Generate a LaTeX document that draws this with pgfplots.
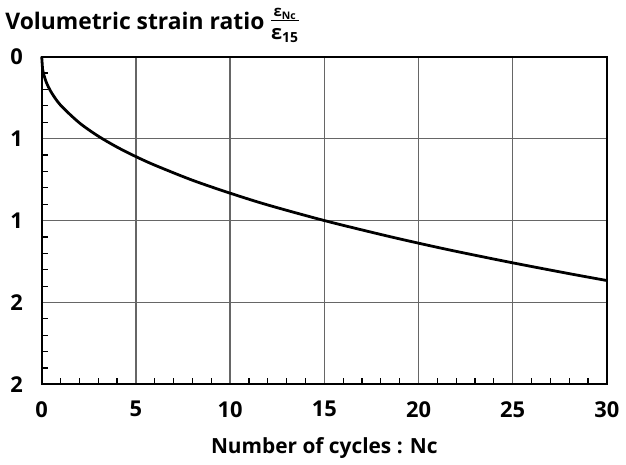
\documentclass[border=0pt]{standalone}
\usepackage{pgfplots}
\pgfplotsset{compat=1.18}
\usepackage{fontspec}
\setmainfont{Open Sans}
\definecolor{gridgray}{HTML}{666666}

\begin{document}
\begin{tikzpicture}
\begin{axis}[
  scale only axis, width=284.5pt, height=165pt,
  xmin=0, xmax=30, ymin=0, ymax=2, y dir=reverse,
  xtick={0,5,...,30}, ytick={0,0.5,1,1.5,2},
  yticklabels={0,1,1,2,2},
  xtick pos=bottom, ytick pos=left,
  minor x tick num=4, minor y tick num=4,
  grid=major, major grid style={gridgray, line width=0.75pt},
  axis line style={black, line width=1pt},
  major tick length=0pt, minor tick length=3pt,
  every minor tick/.style={black, line width=0.6pt},
  tick align=inside,
  ticklabel style={font=\bfseries\fontsize{11}{12}\selectfont},
  /pgf/number format/assume math mode=true,
  xticklabel style={yshift=-5pt},
  yticklabel style={xshift=-6pt},
  xlabel={\bfseries Number of cycles : Nc},
  xlabel style={font=\fontsize{10.5}{12}\selectfont, yshift=-3pt},
  clip=false,
]
\addplot[black, line width=1.4pt, smooth] coordinates {
  (0,0) (0.05,0.08) (0.1,0.105) (0.25,0.158) (0.5,0.216) (1,0.296)
  (2,0.404) (3,0.485) (4,0.552) (5,0.610) (6,0.662) (8,0.754)
  (10,0.833) (12,0.905) (15,1.0) (18,1.085) (20,1.138) (22,1.188)
  (25,1.258) (28,1.324) (30,1.366)
};
\end{axis}
\node[anchor=base west, font=\bfseries\fontsize{11.5}{13}\selectfont, inner sep=0pt]
  (title) at ([xshift=-18.5pt, yshift=13.5pt]current axis.north west)
  {Volumetric strain ratio};
\node[anchor=west, inner sep=0pt, font=\bfseries] at ([xshift=3pt, yshift=-1pt]title.east)
  {\begin{tabular}{@{}c@{}}
   {\fontsize{7.5}{8}\selectfont ε\textsubscript{Nc}}\\[-2pt]
   \hline\noalign{\vskip 1pt}
   {\fontsize{10}{10.5}\selectfont ε\textsubscript{15}}
   \end{tabular}};
\path (current axis.south west) ++(-21pt,-40.5pt) coordinate (bl);
\path (current axis.north east) ++(7.5pt,27.5pt) coordinate (tr);
\path[use as bounding box] (bl) rectangle (tr);
\end{tikzpicture}
\end{document}
